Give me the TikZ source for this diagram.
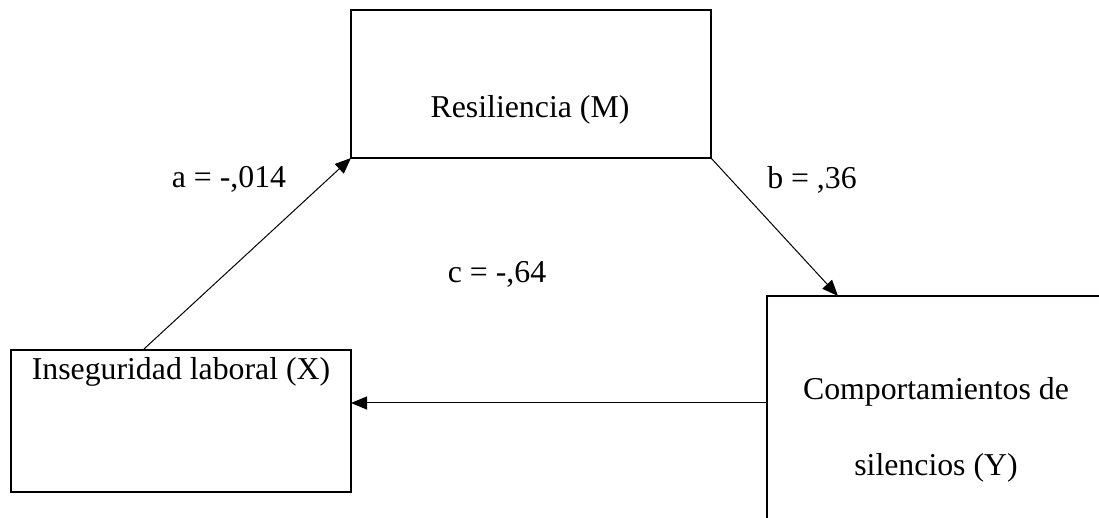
\documentclass[tikz,border=0pt]{standalone}
\usepackage{fontspec}
\setmainfont{Liberation Serif}
\usetikzlibrary{arrows.meta,calc}
\tikzset{
  box/.style={draw, line width=1pt, rectangle, inner sep=0pt, outer sep=0pt},
  txt/.style={anchor=base, inner sep=0pt, font=\fontsize{15.9}{19}\selectfont},
  conn/.style={line width=0.5pt, -{Triangle[length=8pt,width=6.5pt]}},
}
\begin{document}
\begin{tikzpicture}[x=0.5pt,y=-0.5pt]
\clip (0,0) rectangle (1099,518);
\fill[white] (0,0) rectangle (1099,518);
% boxes
\node[box, minimum width=180pt, minimum height=74pt] (M) at (531,84) {};
\node[box, minimum width=170pt, minimum height=71pt] (X) at (181,421) {};
\node[box, minimum width=176.5pt, minimum height=122pt] (Y) at (943.5,418) {};
% box texts
\node[txt] (Mt) at (530,118) {Resiliencia (M)};
\node[txt] (Xt) at (181,380) {Inseguridad laboral (X)};
\node[txt] (Yt1) at (936,400) {Comportamientos de};
\node[txt] (Yt2) at (936,475) {silencios (Y)};
% labels
\node[txt] (la) at (229,188) {a = -,014};
\node[txt] (lb) at (812,189) {b = ,36};
\node[txt] (lc) at (497,283) {c = -,64};
% connectors
\coordinate (aS) at ($(X.north west)!0.388!(X.north east)$);
\coordinate (bE) at ($(Y.north west)+(71,0)$);
\draw[conn] (aS) -- (M.south west);
\draw[conn] (M.south east) -- (bE);
\draw[conn] (Y.west |- 0,403) -- (X.east |- 0,403);
\end{tikzpicture}
\end{document}
